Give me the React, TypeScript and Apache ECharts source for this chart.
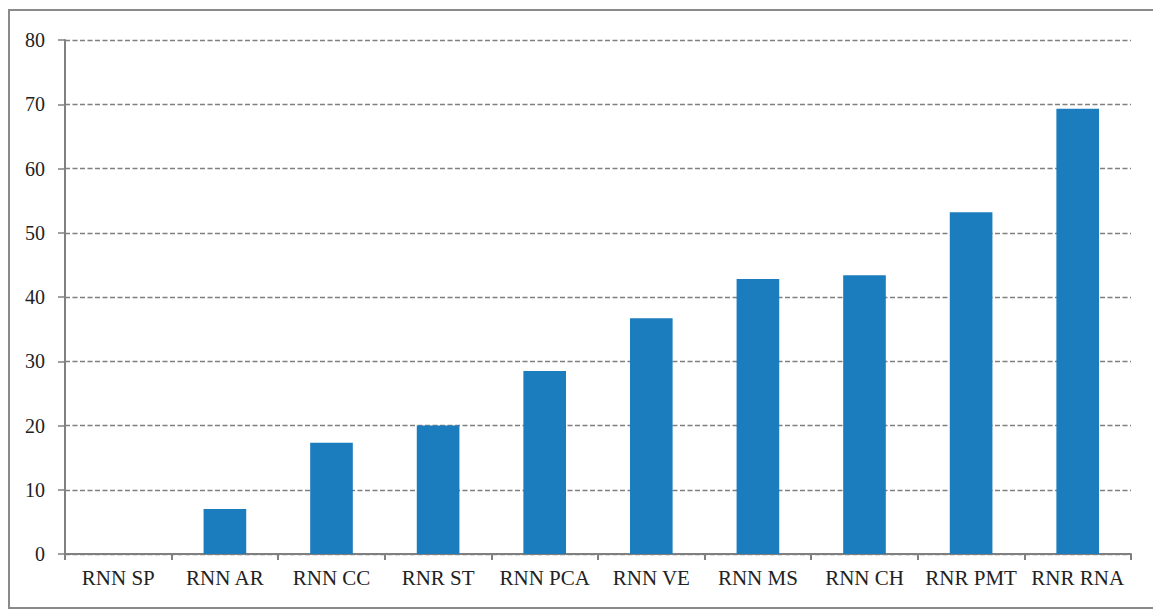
import React, { useEffect, useRef } from "react";
import * as echarts from "echarts";

const categories = ["RNN SP", "RNN AR", "RNN CC", "RNR ST", "RNN PCA", "RNN VE", "RNN MS", "RNN CH", "RNR PMT", "RNR RNA"];
const values = [0, 7.0, 17.3, 20.0, 28.5, 36.7, 42.8, 43.4, 53.2, 69.3];
const yTicks = { min: 0, max: 80, interval: 10 };

export default function App() {
  const ref = useRef<HTMLDivElement>(null);
  useEffect(() => {
    const chart = echarts.init(ref.current!, null, { renderer: "svg" });
    const font = "'Liberation Serif', 'Times New Roman', serif";
    chart.setOption({
      animation: false,
      backgroundColor: "#ffffff",
      textStyle: { fontFamily: font },
      graphic: [
        {
          type: "rect",
          shape: { x: 9, y: 10, width: 1150, height: 598 },
          style: { fill: "none", stroke: "#8a8a8a", lineWidth: 2 },
          silent: true,
        },
      ],
      grid: { left: 65, right: 22, top: 40, bottom: 56, containLabel: false },
      xAxis: {
        type: "category",
        data: categories,
        boundaryGap: true,
        axisLine: { lineStyle: { color: "#808080", width: 2 } },
        axisTick: { show: true, alignWithLabel: false, length: 6, lineStyle: { color: "#808080", width: 2 } },
        axisLabel: { color: "#222", fontSize: 21, fontFamily: font, margin: 13, interval: 0 },
        splitLine: { show: false },
      },
      yAxis: {
        type: "value",
        min: yTicks.min,
        max: yTicks.max,
        interval: yTicks.interval,
        axisLine: { show: true, lineStyle: { color: "#808080", width: 2 } },
        axisTick: { show: true, length: 7, lineStyle: { color: "#808080", width: 1.5 } },
        axisLabel: { color: "#222", fontSize: 20, fontFamily: font, margin: 20 },
        splitLine: { show: true, lineStyle: { color: "#7f7f7f", type: [5, 2.5], width: 1.3 } },
      },
      series: [
        {
          type: "bar",
          data: values,
          barWidth: "40%",
          itemStyle: { color: "#1b7dbd" },
        },
      ],
    });
    return () => chart.dispose();
  }, []);
  return <div ref={ref} style={{ position: "absolute", left: 0, top: 0, width: 1153, height: 610 }} />;
}
